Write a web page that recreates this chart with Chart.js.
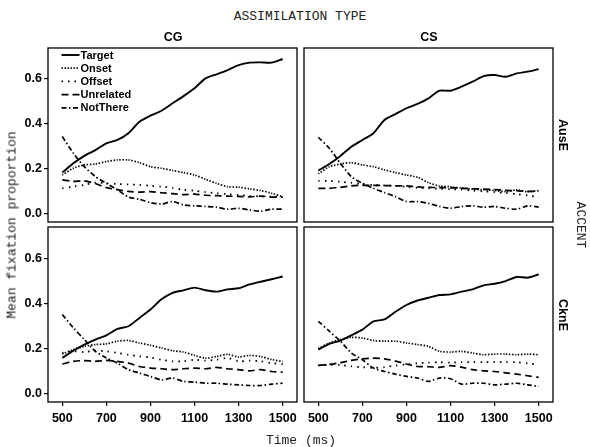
<!DOCTYPE html>
<html>
<head>
<meta charset="utf-8">
<script src="https://cdn.jsdelivr.net/npm/chart.js@4.4.0/dist/chart.umd.min.js"></script>
<style>
  html, body { margin: 0; padding: 0; background: #fff; }
  #wrap { position: relative; width: 590px; height: 447px; overflow: hidden; background: #fff; }
  canvas { position: absolute; }
  .t { position: absolute; white-space: nowrap; color: #000; line-height: 1; transform: translate(-50%, -50%); }
  .t.rot { transform: translate(-50%, -50%) rotate(90deg); }
  .t.rotl { transform: translate(-50%, -50%) rotate(-90deg); }
  .mono { font-family: "Liberation Mono", monospace; font-size: 13px; color: #222; }
  .strip { font-family: "Liberation Sans", Arial, sans-serif; font-weight: bold; font-size: 12.5px; }
</style>
</head>
<body>
<div id="wrap">
  <canvas id="c-tl"></canvas>
  <canvas id="c-tr"></canvas>
  <canvas id="c-bl"></canvas>
  <canvas id="c-br"></canvas>

  <div class="t mono" style="left:300px;top:16px">ASSIMILATION TYPE</div>
  <div class="t strip" style="left:173px;top:37px">CG</div>
  <div class="t strip" style="left:429px;top:37px">CS</div>
  <div class="t strip rot" style="left:563px;top:135px">AusE</div>
  <div class="t strip rot" style="left:563px;top:315px">CknE</div>
  <div class="t mono rot" style="left:580px;top:225px">ACCENT</div>
  <div class="t mono rotl" style="left:12px;top:225px">Mean fixation proportion</div>
  <div class="t mono" style="left:301px;top:440px">Time (ms)</div>
</div>

<script>
// ── Data ────────────────────────────────────────

var times = [500, 550, 600, 650, 700, 750, 800, 850, 900, 950, 1000, 1050, 1100, 1150, 1200, 1250, 1300, 1350, 1400, 1450, 1500];
var xTicks = [500, 700, 900, 1100, 1300, 1500];
var yTicks = [0, 0.2, 0.4, 0.6];
var seriesNames = ["Target", "Onset", "Offset", "Unrelated", "NotThere"];

// CG / AusE
var cgAusE_Target    = [0.184, 0.225, 0.258, 0.284, 0.314, 0.329, 0.359, 0.410, 0.437, 0.459, 0.492, 0.524, 0.559, 0.603, 0.621, 0.640, 0.662, 0.673, 0.674, 0.673, 0.689];
var cgAusE_Onset     = [0.173, 0.203, 0.218, 0.222, 0.233, 0.240, 0.240, 0.228, 0.210, 0.203, 0.193, 0.184, 0.173, 0.154, 0.136, 0.121, 0.119, 0.111, 0.104, 0.092, 0.077];
var cgAusE_Offset    = [0.114, 0.121, 0.129, 0.140, 0.136, 0.133, 0.131, 0.129, 0.125, 0.121, 0.116, 0.107, 0.103, 0.097, 0.092, 0.088, 0.084, 0.080, 0.078, 0.077, 0.077];
var cgAusE_Unrelated = [0.151, 0.145, 0.147, 0.135, 0.117, 0.108, 0.100, 0.097, 0.099, 0.094, 0.090, 0.086, 0.088, 0.083, 0.081, 0.079, 0.078, 0.076, 0.079, 0.075, 0.074];
var cgAusE_NotThere  = [0.344, 0.270, 0.210, 0.166, 0.136, 0.107, 0.075, 0.065, 0.050, 0.044, 0.055, 0.040, 0.036, 0.033, 0.030, 0.021, 0.025, 0.018, 0.012, 0.021, 0.021];

// CS / AusE
var csAusE_Target    = [0.193, 0.222, 0.258, 0.299, 0.329, 0.359, 0.418, 0.444, 0.470, 0.489, 0.514, 0.548, 0.548, 0.566, 0.588, 0.613, 0.618, 0.610, 0.625, 0.633, 0.644];
var csAusE_Onset     = [0.178, 0.210, 0.222, 0.228, 0.218, 0.210, 0.196, 0.184, 0.173, 0.163, 0.139, 0.124, 0.121, 0.114, 0.110, 0.107, 0.104, 0.099, 0.107, 0.099, 0.104];
var csAusE_Offset    = [0.147, 0.147, 0.143, 0.138, 0.133, 0.128, 0.127, 0.125, 0.120, 0.116, 0.114, 0.112, 0.110, 0.108, 0.104, 0.100, 0.097, 0.093, 0.088, 0.082, 0.075];
var csAusE_Unrelated = [0.114, 0.114, 0.118, 0.125, 0.127, 0.127, 0.126, 0.125, 0.125, 0.120, 0.118, 0.117, 0.116, 0.115, 0.112, 0.110, 0.108, 0.105, 0.103, 0.100, 0.100];
var csAusE_NotThere  = [0.341, 0.292, 0.225, 0.166, 0.136, 0.114, 0.095, 0.077, 0.055, 0.055, 0.047, 0.033, 0.025, 0.033, 0.036, 0.030, 0.033, 0.025, 0.021, 0.036, 0.030];

// CG / CknE
var cgCknE_Target    = [0.159, 0.191, 0.218, 0.240, 0.259, 0.287, 0.299, 0.336, 0.373, 0.418, 0.447, 0.458, 0.470, 0.458, 0.452, 0.462, 0.467, 0.484, 0.496, 0.507, 0.519];
var cgCknE_Onset     = [0.176, 0.196, 0.210, 0.218, 0.221, 0.233, 0.236, 0.225, 0.215, 0.203, 0.191, 0.185, 0.170, 0.158, 0.165, 0.175, 0.163, 0.170, 0.165, 0.152, 0.143];
var cgCknE_Offset    = [0.181, 0.188, 0.185, 0.191, 0.188, 0.181, 0.173, 0.166, 0.161, 0.151, 0.144, 0.144, 0.151, 0.147, 0.151, 0.159, 0.144, 0.147, 0.144, 0.136, 0.132];
var cgCknE_Unrelated = [0.132, 0.144, 0.147, 0.144, 0.148, 0.144, 0.136, 0.121, 0.114, 0.111, 0.107, 0.111, 0.114, 0.111, 0.117, 0.111, 0.107, 0.102, 0.107, 0.099, 0.096];
var cgCknE_NotThere  = [0.351, 0.292, 0.240, 0.188, 0.159, 0.136, 0.107, 0.092, 0.077, 0.062, 0.070, 0.055, 0.052, 0.047, 0.047, 0.043, 0.040, 0.037, 0.037, 0.043, 0.047];

// CS / CknE
var csCknE_Target    = [0.196, 0.221, 0.236, 0.259, 0.284, 0.321, 0.329, 0.363, 0.393, 0.413, 0.425, 0.437, 0.440, 0.452, 0.462, 0.480, 0.487, 0.499, 0.517, 0.514, 0.529];
var csCknE_Onset     = [0.200, 0.225, 0.240, 0.250, 0.247, 0.236, 0.233, 0.233, 0.225, 0.218, 0.210, 0.188, 0.185, 0.188, 0.181, 0.173, 0.176, 0.176, 0.173, 0.176, 0.173];
var csCknE_Offset    = [0.126, 0.128, 0.128, 0.122, 0.118, 0.115, 0.118, 0.125, 0.130, 0.135, 0.138, 0.140, 0.138, 0.140, 0.140, 0.140, 0.141, 0.140, 0.140, 0.135, 0.128];
var csCknE_Unrelated = [0.126, 0.130, 0.138, 0.148, 0.155, 0.158, 0.155, 0.145, 0.132, 0.121, 0.120, 0.117, 0.125, 0.118, 0.107, 0.102, 0.099, 0.093, 0.087, 0.080, 0.073];
var csCknE_NotThere  = [0.321, 0.277, 0.233, 0.181, 0.151, 0.114, 0.099, 0.087, 0.077, 0.070, 0.055, 0.070, 0.067, 0.043, 0.047, 0.047, 0.040, 0.043, 0.047, 0.040, 0.033];

(function () {
  "use strict";

  var dashes = [[], [1.4, 1.6], [1.5, 5], [7, 4], [5, 2.5, 1.5, 2.5]];
  var widths = [1.9, 1.7, 1.8, 1.7, 1.7];
  var tickFont = { family: "'Liberation Sans', Arial, sans-serif", size: 12.5, weight: "bold" };

  // ── Plugins ─────────────────────────────────────

  var panelBox = {
    id: "panelBox",
    afterDraw: function (chart) {
      var a = chart.chartArea, ctx = chart.ctx;
      ctx.save();
      ctx.strokeStyle = "#000";
      ctx.lineWidth = 1.3;
      ctx.strokeRect(a.left, a.top, a.right - a.left, a.bottom - a.top);
      ctx.restore();
    }
  };

  var lineKey = {
    id: "lineKey",
    afterDatasetsDraw: function (chart, args, opts) {
      if (!opts.show) return;
      var a = chart.chartArea, ctx = chart.ctx;
      ctx.save();
      ctx.fillStyle = "#000";
      ctx.strokeStyle = "#000";
      ctx.font = "bold 11px 'Liberation Sans', Arial, sans-serif";
      ctx.textBaseline = "middle";
      chart.data.datasets.forEach(function (ds, i) {
        var y = a.top + 7 + i * 13.2;
        ctx.lineWidth = ds.borderWidth;
        ctx.setLineDash(ds.borderDash);
        ctx.beginPath();
        ctx.moveTo(a.left + 13.5, y);
        ctx.lineTo(a.left + 31.5, y);
        ctx.stroke();
        ctx.fillText(ds.label, a.left + 32.5, y + 0.5);
      });
      ctx.restore();
    }
  };

  // ── Panels ──────────────────────────────────────
  // each canvas = panel + 10px margin, plus 48px y axis (left col) or 30px x axis (bottom row)

  function makePanel(id, box, series, showX, showY, legend) {
    var el = document.getElementById(id);
    el.width = box.w; el.height = box.h;
    el.style.left = box.x + "px"; el.style.top = box.y + "px";
    el.style.width = box.w + "px"; el.style.height = box.h + "px";

    var datasets = series.map(function (vals, i) {
      return {
        label: seriesNames[i],
        data: times.map(function (t, j) { return { x: t, y: vals[j] }; }),
        borderColor: "#000",
        borderWidth: widths[i],
        borderDash: dashes[i],
        pointRadius: 0,
        tension: 0.25,
        fill: false
      };
    });

    return new Chart(el, {
      type: "line",
      data: { datasets: datasets },
      options: {
        responsive: false, animation: false, events: [], devicePixelRatio: 1,
        layout: { padding: { top: 10, right: 10, bottom: showX ? 0 : 10, left: showY ? 0 : 10 } },
        plugins: { legend: { display: false }, tooltip: { enabled: false }, lineKey: { show: legend } },
        scales: {
          x: {
            type: "linear", min: 435, max: 1565, display: showX,
            afterBuildTicks: function (s) { s.ticks = xTicks.map(function (v) { return { value: v }; }); },
            afterFit: function (s) { if (showX) s.height = 30; },
            grid: { drawOnChartArea: false, drawTicks: true, tickLength: 4, color: "#000", lineWidth: 1.2 },
            border: { display: false },
            ticks: { font: tickFont, color: "#000", padding: 5, maxRotation: 0, autoSkip: false, callback: function (v) { return v; } }
          },
          y: {
            min: -0.036, max: 0.738, display: showY,
            afterBuildTicks: function (s) { s.ticks = yTicks.map(function (v) { return { value: v }; }); },
            afterFit: function (s) { if (showY) s.width = 48; },
            grid: { drawOnChartArea: false, drawTicks: true, tickLength: 4, color: "#000", lineWidth: 1.2 },
            border: { display: false },
            ticks: { font: tickFont, color: "#000", padding: 2, callback: function (v) { return v.toFixed(1); } }
          }
        }
      },
      plugins: [panelBox, lineKey]
    });
  }

  makePanel("c-tl", { x: 0, y: 38, w: 307, h: 194 },
    [cgAusE_Target, cgAusE_Onset, cgAusE_Offset, cgAusE_Unrelated, cgAusE_NotThere], false, true, true);
  makePanel("c-tr", { x: 294, y: 38, w: 269, h: 194 },
    [csAusE_Target, csAusE_Onset, csAusE_Offset, csAusE_Unrelated, csAusE_NotThere], false, false, false);
  makePanel("c-bl", { x: 0, y: 217, w: 307, h: 215 },
    [cgCknE_Target, cgCknE_Onset, cgCknE_Offset, cgCknE_Unrelated, cgCknE_NotThere], true, true, false);
  makePanel("c-br", { x: 294, y: 217, w: 269, h: 215 },
    [csCknE_Target, csCknE_Onset, csCknE_Offset, csCknE_Unrelated, csCknE_NotThere], true, false, false);
})();
</script>
</body>
</html>
